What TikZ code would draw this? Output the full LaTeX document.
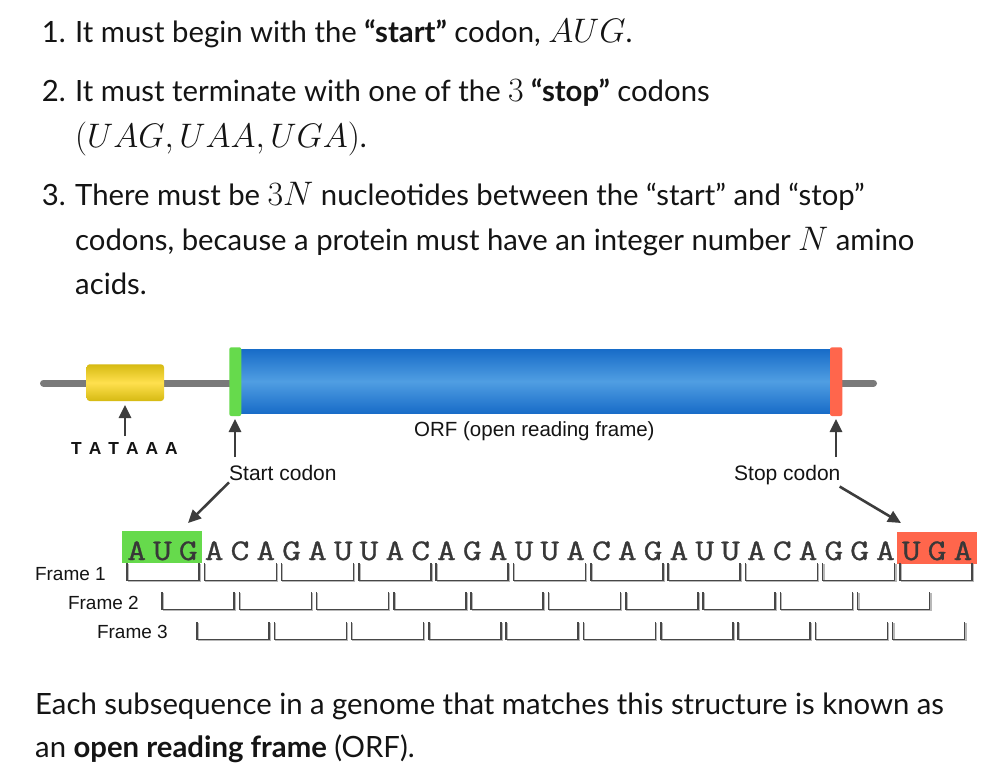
\RequirePackage{fix-cm}
\documentclass[tikz,border=0pt]{standalone}
\usepackage[no-math]{fontspec}
\setmainfont{Lato}
\newfontfamily\lblfont{Liberation Sans}
\newfontfamily\seqfont[FakeBold=0.8]{Latin Modern Mono}
\usetikzlibrary{arrows.meta}

\definecolor{ink}{HTML}{141414}
\definecolor{arrowgray}{HTML}{3C3C3C}
\definecolor{linegray}{HTML}{7A7A7A}
\definecolor{startgreen}{HTML}{66DA4C}
\definecolor{stopred}{HTML}{FF664C}
\definecolor{golddark}{HTML}{D6BA12}
\definecolor{goldlight}{HTML}{FFE04E}
\definecolor{bluedark}{HTML}{186CC8}
\definecolor{bluelight}{HTML}{509EE2}
\definecolor{seqgray}{HTML}{383838}
\definecolor{brk}{HTML}{474747}
\definecolor{brkshadow}{HTML}{B8B8B8}

% math set a little larger than the running text
\newcommand\mth[1]{{\fontsize{34pt}{37pt}\selectfont$#1$}}
% one letter of the nucleotide sequence, widened
\newcommand\nuc[1]{\scalebox{1.22}[1]{#1}}

\tikzset{
  body/.style={font=\fontsize{29.3pt}{34pt}\selectfont, text=ink, inner sep=0pt, anchor=base west},
  itemnum/.style={body, anchor=base east},
  lbl/.style={font=\lblfont\fontsize{21pt}{24pt}\selectfont, text=ink, inner sep=0pt},
  framelbl/.style={font=\lblfont\fontsize{19pt}{22pt}\selectfont, text=ink, inner sep=0pt, anchor=base east},
  seq/.style={font=\seqfont\fontsize{30pt}{32pt}\selectfont, text=seqgray, inner sep=0pt, anchor=base},
  arr/.style={draw=arrowgray, line width=2.6pt, -{Triangle[length=13pt,width=12pt]}},
  bracket/.style={draw=brk, line width=1.5pt},
  bracketshadow/.style={draw=brkshadow, line width=1.3pt},
}

\begin{document}
\begin{tikzpicture}[x=1pt,y=-1pt]
\fill[white] (0,0) rectangle (996,781);
\useasboundingbox (0,0) rectangle (996,781);

% ---- rules for a reading frame ----
\node[itemnum] (n1) at (66,43) {1.};
\node[body] (t1) at (75,43) {It must begin with the \textbf{“start”} codon, \mth{AUG}.};
\node[itemnum] (n2) at (66,102) {2.};
\node[body] (t2a) at (75,102) {It must terminate with one of the \mth{3} \textbf{“stop”} codons};
\node[body] (t2b) at (75,147) {\mth{(UAG, UAA, UGA)}.};
\node[itemnum] (n3) at (66,205) {3.};
\node[body] (t3a) at (75,205) {There must be \mth{3N} nucleotides between the “start” and “stop”};
\node[body] (t3b) at (75,250) {codons, because a protein must have an integer number \mth{N} amino};
\node[body] (t3c) at (75,294) {acids.};

% ---- gene schematic ----
\draw[linegray, line width=7pt, line cap=round] (43.5,383) -- (873.5,383);
\shade[top color=golddark, bottom color=golddark, middle color=goldlight, rounded corners=3pt]
  (86.7,364.3) rectangle (164,401);
\shade[top color=bluedark, bottom color=bluedark, middle color=bluelight]
  (240,349.3) rectangle (831,413.3);
\fill[startgreen, rounded corners=2pt] (229.3,347.3) rectangle (241.3,416);
\fill[stopred, rounded corners=2pt] (830,347.3) rectangle (842.3,416);

\node[font=\lblfont\bfseries\fontsize{17.4pt}{20pt}\selectfont, text=ink, inner sep=0pt, anchor=base]
  (tata) at (124.5,454) {T\kern7pt A\kern7pt T\kern7pt A\kern7pt A\kern7pt A};
\node[lbl, anchor=base west, font=\lblfont\fontsize{20.5pt}{24pt}\selectfont] (orf) at (414,436) {ORF (open reading frame)};
\node[lbl, anchor=base west] (startlbl) at (229,480) {Start codon};
\node[lbl, anchor=base west] (stoplbl) at (734,480) {Stop codon};

\coordinate (tataTail) at (125,436);
\coordinate (tataTip) at (125,405);
\coordinate (startTail) at (235,457);
\coordinate (startTip) at (235,419);
\coordinate (stopTail) at (836,457);
\coordinate (stopTip) at (836,419);
\coordinate (augTip) at (188,523);
\coordinate (ugaTip) at (901,523);

\draw[arr] (tataTail) -- (tataTip);
\draw[arr] (startTail) -- (startTip);
\draw[arr] (stopTail) -- (stopTip);
\draw[arr] (startlbl.south west) ++(0,2) -- (augTip);
\draw[arr] (stoplbl.south east) ++(-1,2) -- (ugaTip);

% ---- sequence with start and stop codons ----
\fill[startgreen] (122,531) rectangle (202,563);
\fill[stopred] (897,532) rectangle (977,564);
\foreach \ch [count=\i from 0] in {A,U,G,A,C,A,G,A,U,U,A,C,A,G,A,U,U,A,C,A,G,A,U,U,A,C,A,G,G,A,U,G,A}{
  \node[seq] (s\i) at (136.7+25.82*\i,560) {\nuc{\ch}};
}

% ---- the three reading frames ----
\node[framelbl] (f1) at (106,580) {Frame 1};
\node[framelbl] (f2) at (139,609) {Frame 2};
\node[framelbl] (f3) at (168,638) {Frame 3};
\foreach \xs/\n/\yt in {127/10/563,162/9/592,197/9/622}{
  \foreach \k in {0,...,\n}{
    \pgfmathsetmacro\xa{\xs+77.3*\k}
    \pgfmathsetmacro\xb{\xa+72}
    \draw[bracketshadow] (\xa+1.2,\yt+1) -- (\xa+1.2,\yt+18.7) -- (\xb+1.2,\yt+18.7) -- (\xb+1.2,\yt+1);
    \draw[bracket] (\xa,\yt) -- (\xa,\yt+17.5) -- (\xb,\yt+17.5) -- (\xb,\yt);
  }
}

% ---- closing remark ----
\node[body] (b1) at (35,714) {Each subsequence in a genome that matches this structure is known as};
\node[body] (b2) at (35,757) {an \textbf{open reading frame} (ORF).};
\end{tikzpicture}
\end{document}
